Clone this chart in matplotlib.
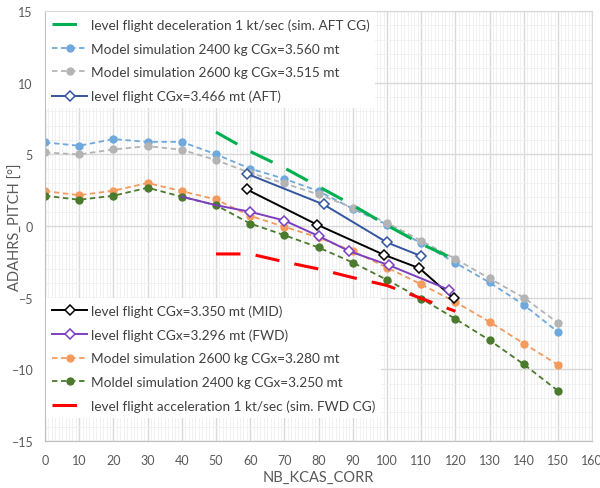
import matplotlib.pyplot as plt
import numpy as np

plt.rcParams['font.family'] = ['Lato', 'DejaVu Sans']

# model simulation data
sim_x = [0, 10, 20, 30, 40, 50, 60, 70, 80, 90, 100, 110, 120, 130, 140, 150]
sim_2400_aft = [5.83, 5.6, 6.06, 5.87, 5.87, 5.0, 4.0, 3.29, 2.43, 1.2, 0.1, -1.2, -2.57, -3.94, -5.5, -7.4]
sim_2600_aft = [5.13, 4.99, 5.34, 5.57, 5.32, 4.6, 3.7, 2.97, 2.2, 1.27, 0.22, -1.03, -2.3, -3.66, -5.0, -6.76]
sim_2600_fwd = [2.43, 2.15, 2.46, 3.0, 2.43, 1.85, 0.71, -0.06, -0.8, -1.76, -2.9, -4.07, -5.3, -6.69, -8.2, -9.69]
sim_2400_fwd = [2.11, 1.83, 2.11, 2.67, 2.04, 1.45, 0.17, -0.64, -1.5, -2.55, -3.76, -5.06, -6.48, -7.97, -9.65, -11.5]

# flight test data
aft_x = [59, 81.5, 100, 110]
aft_y = [3.65, 1.5, -1.15, -2.1]
mid_x = [59, 79.5, 99, 109.5, 119.5]
mid_y = [2.55, 0.1, -2.0, -2.95, -5.05]
fwd_x = [40, 50, 60, 70, 80, 89, 100.5, 118]
fwd_y = [2.05, 1.45, 0.99, 0.38, -0.7, -1.76, -2.73, -4.44]

# acceleration / deceleration runs
run_x = [50, 60, 70, 80, 90, 100, 110, 120]
decel_y = [6.55, 5.2, 4.05, 2.75, 1.45, 0.05, -1.25, -2.35]
accel_y = [-1.95, -1.95, -2.5, -3.0, -3.6, -4.15, -5.05, -5.95]

fig = plt.figure(figsize=(6, 4.89), dpi=100)
ax = fig.add_axes([0.075, 0.0961, 0.912, 0.8794])

txt = '#595959'
dash = (0, (3, 2))

l_decel, = ax.plot(run_x, decel_y, color='#00B050', lw=2.2, ls=(0, (8, 5)), zorder=3,
                   label='level flight deceleration 1 kt/sec (sim. AFT CG)')
l_s1, = ax.plot(sim_x, sim_2400_aft, color='#6FA8DC', lw=1.3, ls=dash, marker='o', ms=5,
                label='Model simulation 2400 kg CGx=3.560 mt')
l_s2, = ax.plot(sim_x, sim_2600_aft, color='#B4B4B4', lw=1.3, ls=dash, marker='o', ms=5,
                label='Model simulation 2600 kg CGx=3.515 mt')
l_aft, = ax.plot(aft_x, aft_y, color='#3356A0', lw=1.4, marker='D', ms=5, mfc='white', mew=1.1,
                 label='level flight CGx=3.466 mt (AFT)')
l_mid, = ax.plot(mid_x, mid_y, color='black', lw=1.4, marker='D', ms=5, mfc='white', mew=1.1,
                 label='level flight CGx=3.350 mt (MID)', zorder=4)
l_fwd, = ax.plot(fwd_x, fwd_y, color='#7B3FC0', lw=1.4, marker='D', ms=5, mfc='white', mew=1.1,
                 markevery=[2, 3, 4, 5, 6, 7],
                 label='level flight CGx=3.296 mt (FWD)', zorder=4)
l_s3, = ax.plot(sim_x, sim_2600_fwd, color='#F49A5C', lw=1.3, ls=dash, marker='o', ms=5,
                label='Model simulation 2600 kg CGx=3.280 mt')
l_s4, = ax.plot(sim_x, sim_2400_fwd, color='#4A7A2C', lw=1.3, ls=dash, marker='o', ms=5,
                label='Moldel simulation 2400 kg CGx=3.250 mt')
l_accel, = ax.plot(run_x, accel_y, color='#FF0000', lw=2.2, ls=(0, (8, 5)), zorder=3,
                   label='level flight acceleration 1 kt/sec (sim. FWD CG)')

ax.set_xlim(0, 160)
ax.set_ylim(-15, 15)
ax.set_xticks(np.arange(0, 161, 10))
ax.set_yticks(np.arange(-15, 16, 5))
ax.set_xticks(np.arange(0, 161, 1), minor=True)
ax.set_yticks(np.arange(-15, 16, 1), minor=True)
ax.grid(which='major', color='#D9D9D9', lw=1.0)
ax.grid(which='minor', color='#EFEFEF', lw=0.6)
ax.set_axisbelow(True)
ax.tick_params(which='both', length=0, colors=txt, labelsize=9)
ax.tick_params(axis='x', pad=9)
ax.tick_params(axis='y', pad=9)
for s in ['top', 'right']:
    ax.spines[s].set_color('#D9D9D9')
for s in ['left', 'bottom']:
    ax.spines[s].set_color('#BFBFBF')

ax.set_xlabel('NB_KCAS_CORR', color=txt, fontsize=10.5)
ax.set_ylabel('ADAHRS_PITCH [°]', color=txt, fontsize=10.5)
ax.xaxis.set_label_coords(0.5, -0.066)
ax.yaxis.set_label_coords(-0.04, 0.5)

leg_kw = dict(fontsize=9.8, frameon=True, facecolor='white', edgecolor='none', framealpha=1,
              fancybox=False, borderaxespad=0.1, handlelength=2.55, labelspacing=0.85,
              handletextpad=0.25, labelcolor='#404040', borderpad=0.45)
leg1 = ax.legend(handles=[l_decel, l_s1, l_s2, l_aft], loc='upper left',
                 bbox_to_anchor=(0.0, 1.0), **leg_kw)
ax.add_artist(leg1)
ax.legend(handles=[l_mid, l_fwd, l_s3, l_s4, l_accel], loc='lower left',
          bbox_to_anchor=(0.0, 0.05), **leg_kw)

fig.savefig('out.png', dpi=100)
plt.close()
